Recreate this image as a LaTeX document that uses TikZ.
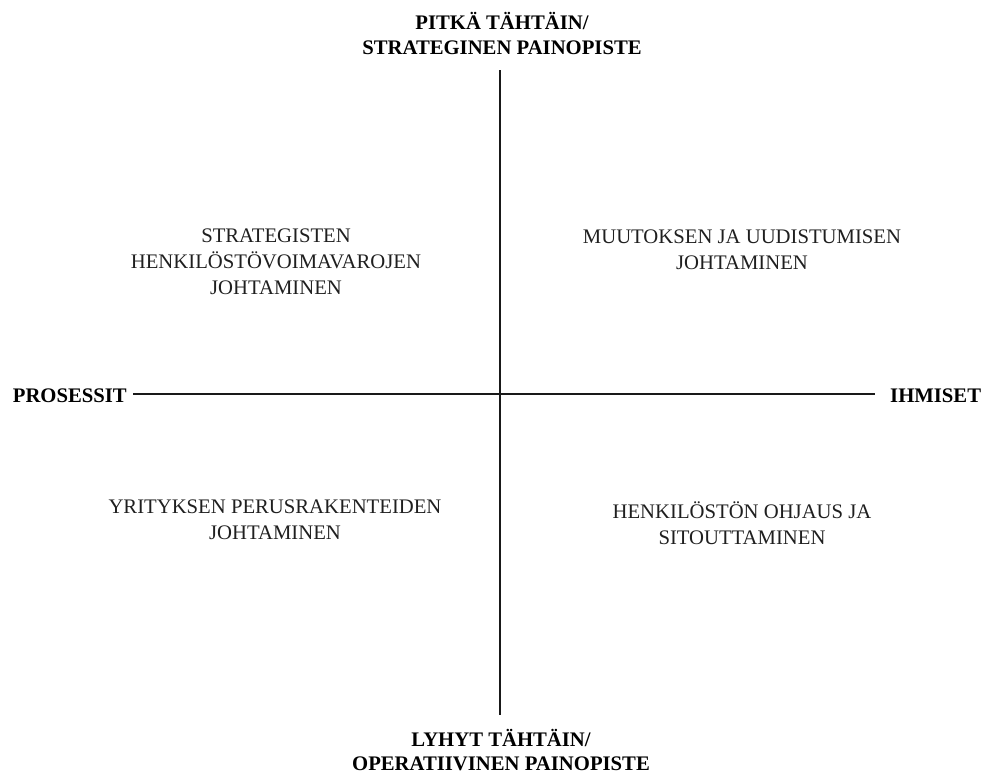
\documentclass[tikz,border=0pt]{standalone}
\usepackage{fontspec}
\setmainfont{Liberation Serif}
\begin{document}
\begin{tikzpicture}[x=1pt,y=-1pt,
  axis/.style={line width=1.6pt,draw=black!90},
  heading/.style={font=\bfseries\fontsize{20.7}{25}\selectfont,align=center,inner sep=0pt,text=black},
  quadrant/.style={font=\fontsize{20.7}{26}\selectfont,align=center,inner sep=0pt,text=black!88}]
\useasboundingbox (0,0) rectangle (982,774);

% axis end labels
\node[heading] (top) at (502,33) {PITKÄ TÄHTÄIN/\\STRATEGINEN PAINOPISTE};
\node[heading,font=\bfseries\fontsize{20.7}{24}\selectfont] (bottom) at (501,750) {LYHYT TÄHTÄIN/\\OPERATIIVINEN PAINOPISTE};
\node[heading,anchor=base east] (left) at (127,402) {PROSESSIT};
\node[heading,anchor=base west] (right) at (890,402) {IHMISET};

% axis end points
\coordinate (vtop) at (500,70);
\coordinate (vbot) at (500,715);
\coordinate (hleft) at (133,394);
\coordinate (hright) at (875,394);

\draw[axis] (vtop) -- (vbot);
\draw[axis] (hleft) -- (hright);

% quadrant labels
\node[quadrant] (ul) at (276,262) {STRATEGISTEN\\HENKILÖSTÖVOIMAVAROJEN\\JOHTAMINEN};
\node[quadrant] (ur) at (742,249.5) {MUUTOKSEN JA UUDISTUMISEN\\JOHTAMINEN};
\node[quadrant] (ll) at (275,520) {YRITYKSEN PERUSRAKENTEIDEN\\JOHTAMINEN};
\node[quadrant] (lr) at (742,523) {HENKILÖSTÖN OHJAUS JA\\SITOUTTAMINEN};
\end{tikzpicture}
\end{document}
